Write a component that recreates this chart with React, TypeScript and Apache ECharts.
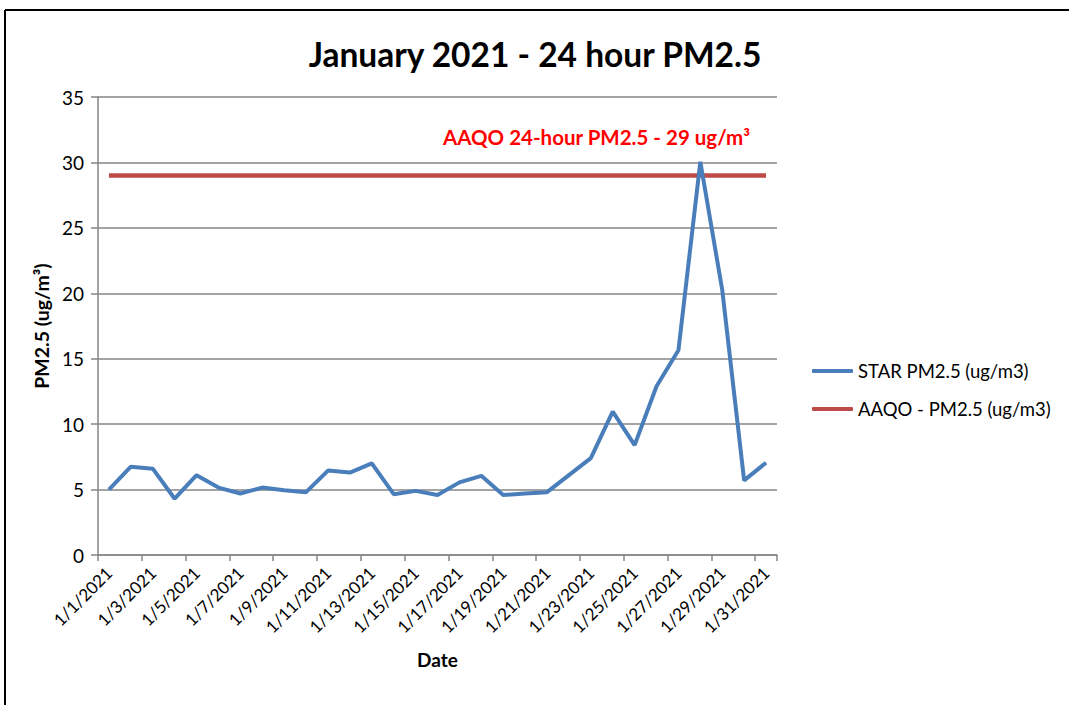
import React, { useEffect, useRef } from "react";
import * as echarts from "echarts";

const dates: string[] = Array.from({ length: 31 }, (_, i) => `1/${i + 1}/2021`);
const starPM25: number[] = [
  5.0, 6.75, 6.6, 4.3, 6.1, 5.15, 4.7, 5.15, 4.95, 4.8,
  6.45, 6.3, 7.0, 4.65, 4.9, 4.58, 5.55, 6.05, 4.58, 4.7,
  4.8, 6.1, 7.4, 10.95, 8.4, 12.9, 15.65, 30.05, 20.25, 5.7,
  7.05,
];
const aaqoLimit: number[] = dates.map(() => 29);
const yTicks = { min: 0, max: 35, interval: 5 };

const FONT = "Lato, 'Open Sans', sans-serif";

export default function App() {
  const ref = useRef<HTMLDivElement>(null);
  useEffect(() => {
    if (!ref.current) return;
    const chart = echarts.init(ref.current, undefined, { renderer: "svg" });
    chart.setOption({
      animation: false,
      backgroundColor: "#ffffff",
      textStyle: { fontFamily: FONT },
      title: {
        text: "January 2021 - 24 hour PM2.5",
        left: 530,
        top: 32,
        textAlign: "center",
        textStyle: { fontFamily: FONT, fontSize: 33.5, fontWeight: "bold", color: "#000" },
      },
      grid: { left: 98, right: 292, top: 97, bottom: 150, containLabel: false },
      legend: {
        orient: "vertical",
        left: 807,
        top: 356,
        itemWidth: 41,
        itemHeight: 4,
        itemGap: 18,
        icon: "roundRect",
        textStyle: { fontFamily: FONT, fontSize: 18.5, lineHeight: 20, color: "#000" },
        data: ["STAR PM2.5 (ug/m3)", "AAQO - PM2.5 (ug/m3)"],
      },
      xAxis: {
        type: "category",
        data: dates,
        boundaryGap: true,
        name: "Date",
        nameLocation: "middle",
        nameGap: 95,
        nameTextStyle: { fontFamily: FONT, fontSize: 19, fontWeight: "bold", color: "#000" },
        axisLine: { lineStyle: { color: "#868686", width: 1.5 } },
        axisTick: { show: true, interval: 1, length: 6, lineStyle: { color: "#868686", width: 1.5 } },
        axisLabel: {
          interval: 1,
          rotate: 45,
          margin: 15,
          fontFamily: FONT,
          fontSize: 17,
          color: "#000",
        },
        splitLine: { show: false },
      },
      yAxis: {
        type: "value",
        min: yTicks.min,
        max: yTicks.max,
        interval: yTicks.interval,
        name: "PM2.5 (ug/m³)",
        nameLocation: "middle",
        nameGap: 45,
        nameRotate: 90,
        nameTextStyle: { fontFamily: FONT, fontSize: 19.5, fontWeight: "bold", color: "#000" },
        axisLine: { show: true, lineStyle: { color: "#868686", width: 1.5 } },
        axisTick: { show: true, length: 7, lineStyle: { color: "#868686", width: 1.5 } },
        axisLabel: { fontFamily: FONT, fontSize: 19, color: "#000", margin: 14 },
        splitLine: { show: true, lineStyle: { color: "#868686", width: 1.5 } },
      },
      series: [
        {
          name: "STAR PM2.5 (ug/m3)",
          type: "line",
          data: starPM25,
          showSymbol: false,
          symbol: "none",
          color: "#4a7ebb",
          lineStyle: { color: "#4a7ebb", width: 4 },
          z: 3,
        },
        {
          name: "AAQO - PM2.5 (ug/m3)",
          type: "line",
          data: aaqoLimit,
          showSymbol: false,
          symbol: "none",
          color: "#be4b48",
          lineStyle: { color: "#be4b48", width: 4.5 },
          z: 2,
        },
      ],
      graphic: [
        {
          type: "line",
          shape: { x1: 5, y1: 10, x2: 1069, y2: 10 },
          style: { stroke: "#000", lineWidth: 2 },
          silent: true,
        },
        {
          type: "line",
          shape: { x1: 5, y1: 10, x2: 5, y2: 705 },
          style: { stroke: "#000", lineWidth: 2 },
          silent: true,
        },
        {
          type: "text",
          x: 443,
          y: 137,
          style: {
            text: "AAQO 24-hour PM2.5 - 29 ug/m³",
            fill: "#ff0000",
            font: `bold 20.5px ${FONT}`,
            textVerticalAlign: "middle",
          },
          silent: true,
        },
      ],
    });
    return () => chart.dispose();
  }, []);
  return (
    <div
      ref={ref}
      style={{ position: "absolute", left: 0, top: 0, width: 1069, height: 705 }}
    />
  );
}
